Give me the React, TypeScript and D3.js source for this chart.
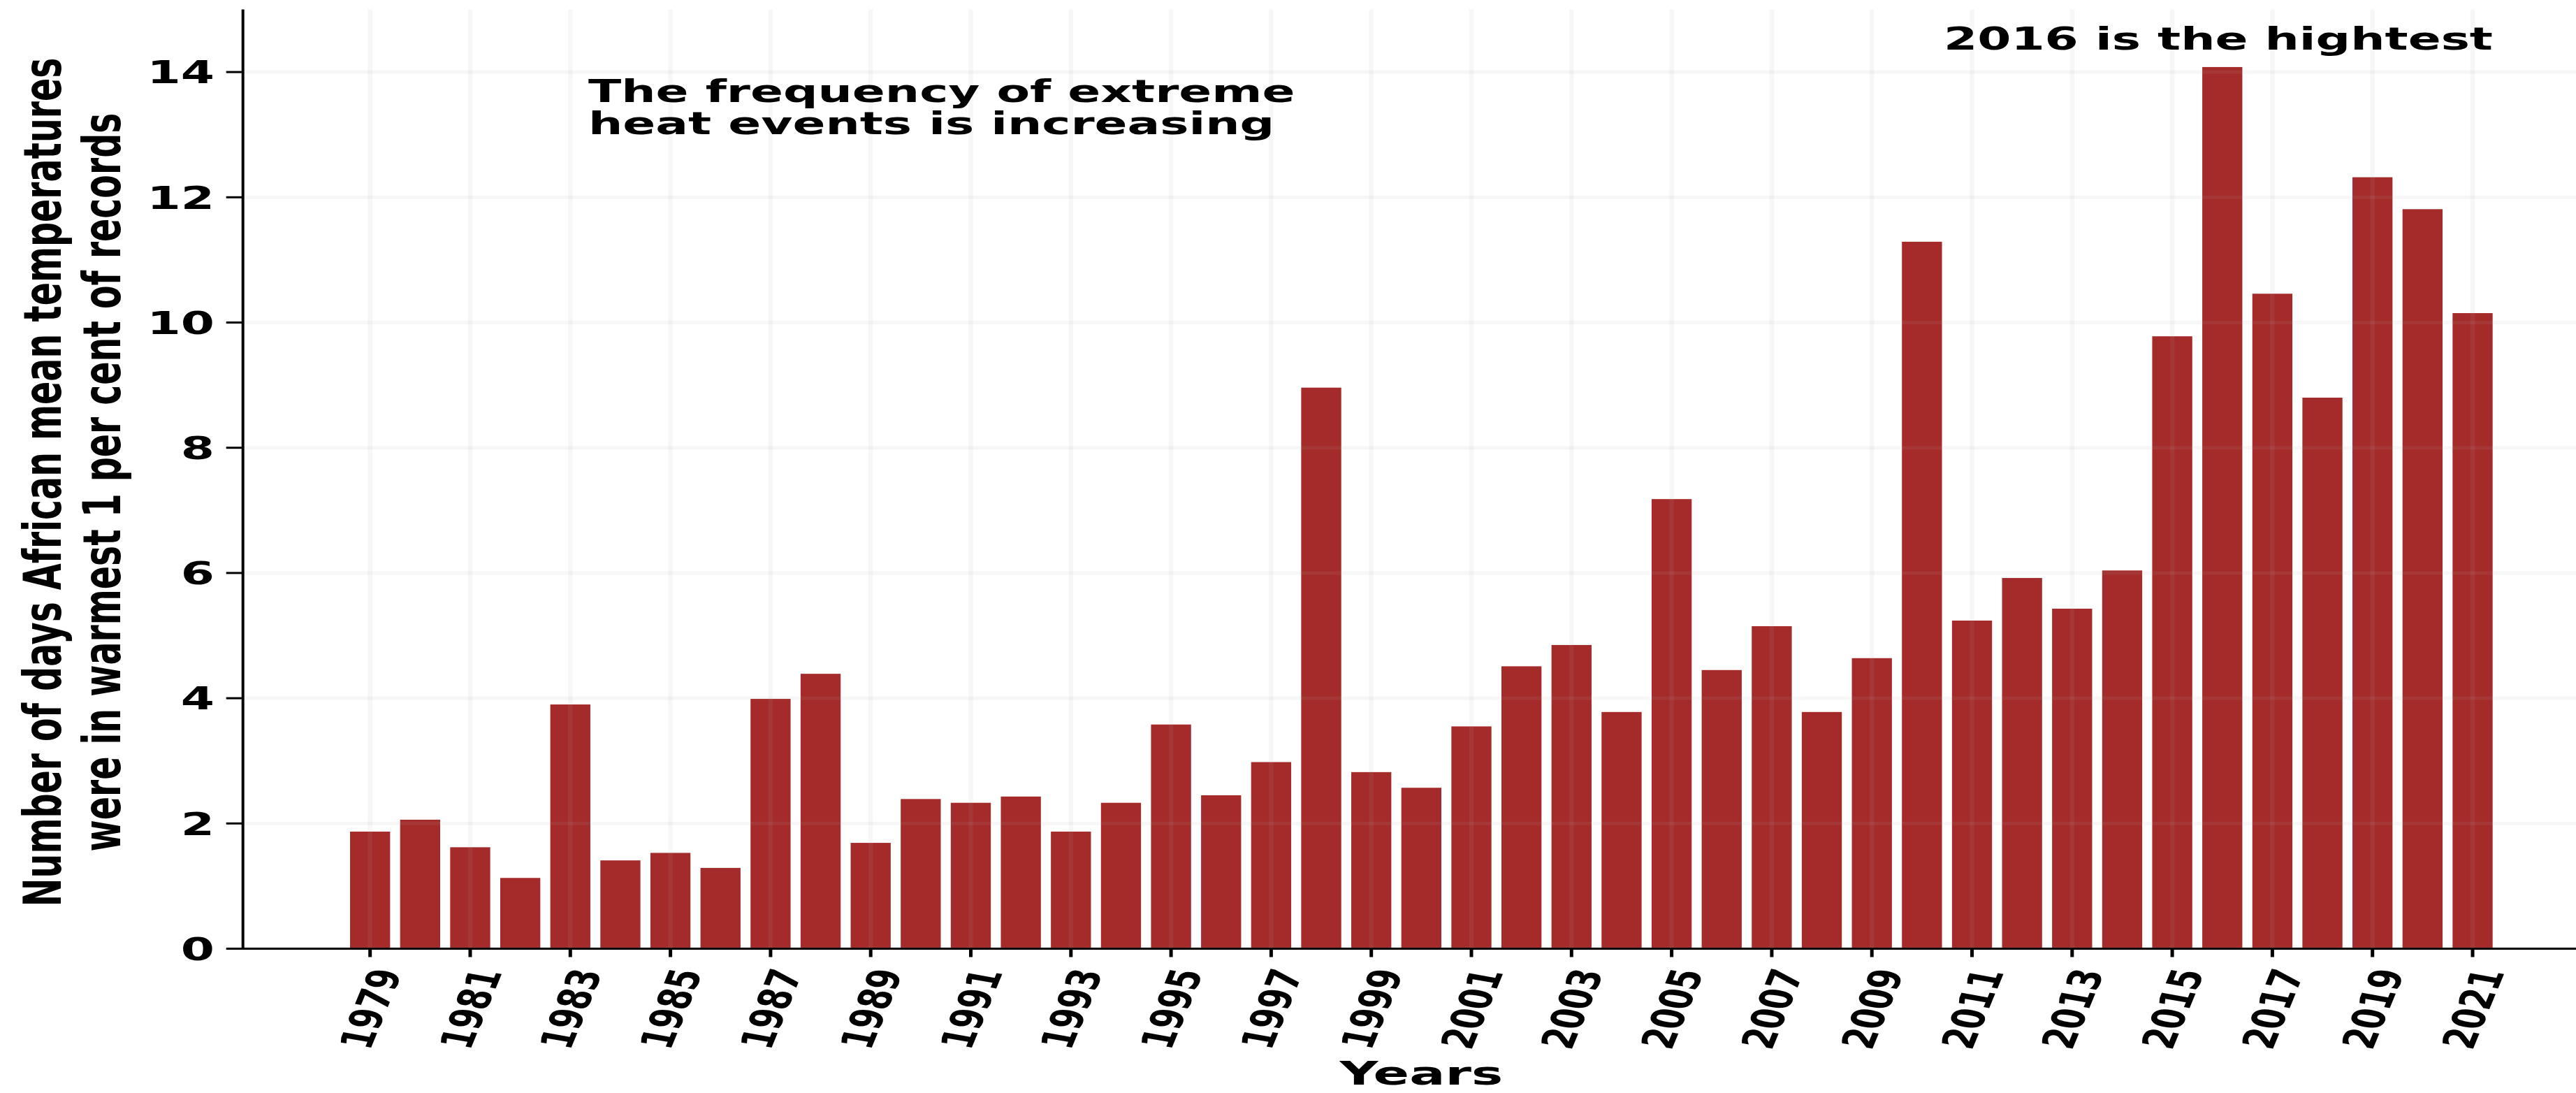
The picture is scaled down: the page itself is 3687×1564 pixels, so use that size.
import React from "react";
import * as d3 from "d3";

const years: number[] = [
  1979, 1980, 1981, 1982, 1983, 1984, 1985, 1986, 1987, 1988, 1989, 1990, 1991,
  1992, 1993, 1994, 1995, 1996, 1997, 1998, 1999, 2000, 2001, 2002, 2003, 2004,
  2005, 2006, 2007, 2008, 2009, 2010, 2011, 2012, 2013, 2014, 2015, 2016, 2017,
  2018, 2019, 2020, 2021,
];
const days: number[] = [
  1.87, 2.06, 1.62, 1.13, 3.9, 1.41, 1.53, 1.29, 3.99, 4.39, 1.69, 2.39, 2.33,
  2.43, 1.87, 2.33, 3.58, 2.45, 2.98, 8.96, 2.82, 2.57, 3.55, 4.51, 4.85, 3.78,
  7.18, 4.45, 5.15, 3.78, 4.64, 11.29, 5.24, 5.92, 5.43, 6.04, 9.78, 14.08,
  10.46, 8.8, 12.32, 11.81, 10.15,
];
const xTicks: number[] = d3.range(1979, 2022, 2);
const yTicks: number[] = [0, 2, 4, 6, 8, 10, 12, 14];
const yLabelLines: string[] = [
  "Number of days African mean temperatures",
  "were in warmest 1 per cent of records",
];
const note1Lines: string[] = [
  "The frequency of extreme",
  "heat events is increasing",
];
const note2 = "2016 is the hightest";
const xLabel = "Years";

const W = 3687;
const H = 1564;
const SX = 1.54;
const FONT = "'DejaVu Sans', Verdana, sans-serif";
const BAR = "#a52a2a";

export default function App() {
  const x = d3.scaleLinear().domain([1976.46, 2023.54]).range([347.7, 3721]);
  const y = d3.scaleLinear().domain([0, 15]).range([1357.5, 13.5]);
  const bw = x(1979.4) - x(1978.6);
  const x0 = x.range()[0];
  const yTop = y(15);
  const yBase = y(0);

  const tf = 42;
  const L = 2.784 * tf;
  const h = 0.729 * tf;
  const c = Math.cos((75 * Math.PI) / 180);
  const s = Math.sin((75 * Math.PI) / 180);
  const bboxW = c * L + s * h;
  const ex = bboxW / 2;
  const ey = c * h;

  return (
    <svg
      width={W}
      height={H}
      viewBox={`0 0 ${W} ${H}`}
      style={{ position: "absolute", left: 0, top: 0, background: "#fff" }}
      fontFamily={FONT}
      fontWeight="bold"
    >
      <rect x={0} y={0} width={W} height={H} fill="#fff" />
      {/* bars */}
      {years.map((yr, i) => (
        <rect
          key={yr}
          x={x(yr) - bw / 2}
          y={y(days[i])}
          width={bw}
          height={yBase - y(days[i])}
          fill={BAR}
        />
      ))}
      {/* grid */}
      <g stroke="#b0b0b0" strokeOpacity={0.1}>
        {xTicks.map((t) => (
          <line key={"gx" + t} x1={x(t)} x2={x(t)} y1={yTop} y2={yBase} strokeWidth={6.5} />
        ))}
        {yTicks.map((t) => (
          <line key={"gy" + t} x1={x0} x2={W} y1={y(t)} y2={y(t)} strokeWidth={5} />
        ))}
      </g>
      {/* axes */}
      <line x1={x0} x2={x0} y1={yTop} y2={yBase + 1.5} stroke="#000" strokeWidth={4} />
      <line x1={x0 - 2} x2={W} y1={yBase} y2={yBase} stroke="#000" strokeWidth={3} />
      {/* y ticks */}
      {yTicks.map((t) => (
        <g key={"yt" + t}>
          <line x1={x0 - 24} x2={x0} y1={y(t)} y2={y(t)} stroke="#000" strokeWidth={3} />
          <g transform={`translate(307,${y(t)}) scale(${SX},1)`}>
            <text textAnchor="end" dy="0.36em" fontSize={45} fill="#000">
              {t}
            </text>
          </g>
        </g>
      ))}
      {/* x ticks */}
      {xTicks.map((t) => (
        <g key={"xt" + t}>
          <line x1={x(t)} x2={x(t)} y1={yBase} y2={yBase + 12} stroke="#000" strokeWidth={5} />
          <g transform={`translate(${x(t)},1383) scale(${SX},1)`}>
            <text
              x={ex}
              y={ey}
              textAnchor="end"
              fontSize={tf}
              fill="#000"
              transform={`rotate(-75,${ex},${ey})`}
            >
              {t}
            </text>
          </g>
        </g>
      ))}
      {/* x label */}
      <g transform={`translate(${(x0 + x.range()[1]) / 2},1552) scale(${SX * 1.05},1)`}>
        <text textAnchor="middle" fontSize={47} fill="#000">
          {xLabel}
        </text>
      </g>
      {/* y label */}
      {yLabelLines.map((ln, i) => (
        <g key={"yl" + i} transform={`translate(${87 + i * 85},690) scale(${SX},1) rotate(-90)`}>
          <text textAnchor="middle" fontSize={49} fill="#000">
            {ln}
          </text>
        </g>
      ))}
      {/* annotations */}
      {note1Lines.map((ln, i) => (
        <g key={"n1" + i} transform={`translate(842,${146 + i * 45.7}) scale(${SX},1)`}>
          <text fontSize={45} fill="#000">
            {ln}
          </text>
        </g>
      ))}
      <g transform={`translate(2782,71) scale(${SX},1)`}>
        <text fontSize={45} fill="#000">
          {note2}
        </text>
      </g>
    </svg>
  );
}
